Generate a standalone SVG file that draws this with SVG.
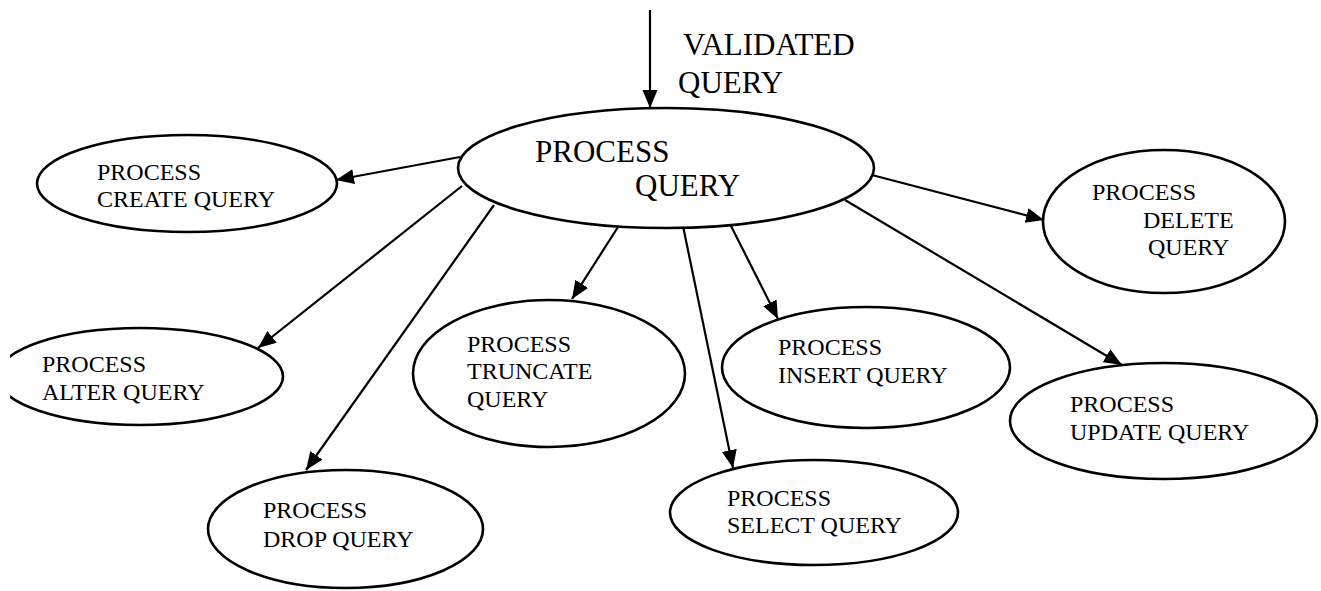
<svg xmlns="http://www.w3.org/2000/svg" width="1321" height="591" viewBox="0 0 1321 591">
  <style>
    .node { fill: #fff; stroke: #000; stroke-width: 2.6; }
    .edge { stroke: #000; stroke-width: 2.2; fill: none; marker-end: url(#arrow); }
    text { font-family: "Liberation Serif", "Times New Roman", "DejaVu Serif", serif; fill: #000; }
    .lbl { font-size: 24px; }
    .big { font-size: 31px; }
  </style>
  <defs>
    <marker id="arrow" markerUnits="userSpaceOnUse" markerWidth="20" markerHeight="16" refX="18" refY="7.5" orient="auto">
      <path d="M0,0 L18,7.5 L0,15 z" fill="#000"/>
    </marker>
    <clipPath id="leftEdge">
      <rect x="10" y="0" width="1311" height="591"/>
    </clipPath>
  </defs>

  <rect width="1321" height="591" fill="#fff"/>

  <!-- connectors -->
  <g id="connectors">
    <line class="edge" x1="650" y1="10" x2="650" y2="108"/>
    <line class="edge" x1="460" y1="157" x2="336" y2="180"/>
    <line class="edge" x1="462" y1="186" x2="258" y2="348"/>
    <line class="edge" x1="494" y1="205" x2="306" y2="470"/>
    <line class="edge" x1="618" y1="227" x2="572" y2="299"/>
    <line class="edge" x1="683" y1="226" x2="733" y2="468"/>
    <line class="edge" x1="730" y1="224" x2="778" y2="319"/>
    <line class="edge" x1="845" y1="200" x2="1122" y2="365"/>
    <line class="edge" x1="868" y1="174" x2="1044" y2="220"/>
  </g>

  <!-- incoming label -->
  <text class="big" x="683" y="55">VALIDATED</text>
  <text class="big" x="678" y="93">QUERY</text>

  <g id="process-query">
    <ellipse class="node" cx="666" cy="168" rx="208" ry="60"/>
    <text class="big" x="535" y="162">PROCESS</text>
    <text class="big" x="635" y="196">QUERY</text>
  </g>

  <g id="create-query">
    <ellipse class="node" cx="187" cy="183.5" rx="150" ry="48.5"/>
    <text class="lbl" x="97" y="180">PROCESS</text>
    <text class="lbl" x="97" y="207">CREATE QUERY</text>
  </g>

  <g id="alter-query">
    <ellipse class="node" cx="140" cy="376.5" rx="143" ry="48.5" clip-path="url(#leftEdge)"/>
    <text class="lbl" x="42" y="372">PROCESS</text>
    <text class="lbl" x="42" y="400">ALTER QUERY</text>
  </g>

  <g id="drop-query">
    <ellipse class="node" cx="345.5" cy="529" rx="137.5" ry="59"/>
    <text class="lbl" x="263" y="518">PROCESS</text>
    <text class="lbl" x="263" y="547">DROP QUERY</text>
  </g>

  <g id="truncate-query">
    <ellipse class="node" cx="549" cy="373.5" rx="136" ry="73.5"/>
    <text class="lbl" x="467" y="352">PROCESS</text>
    <text class="lbl" x="467" y="379">TRUNCATE</text>
    <text class="lbl" x="467" y="407">QUERY</text>
  </g>

  <g id="select-query">
    <ellipse class="node" cx="814" cy="512.5" rx="144" ry="52.5"/>
    <text class="lbl" x="727" y="506">PROCESS</text>
    <text class="lbl" x="727" y="533">SELECT QUERY</text>
  </g>

  <g id="insert-query">
    <ellipse class="node" cx="866" cy="367.5" rx="144" ry="60.5"/>
    <text class="lbl" x="778" y="355">PROCESS</text>
    <text class="lbl" x="778" y="383">INSERT QUERY</text>
  </g>

  <g id="update-query">
    <ellipse class="node" cx="1163.5" cy="421" rx="153.5" ry="58"/>
    <text class="lbl" x="1070" y="412">PROCESS</text>
    <text class="lbl" x="1070" y="440">UPDATE QUERY</text>
  </g>

  <g id="delete-query">
    <ellipse class="node" cx="1164" cy="221.5" rx="121" ry="71.5"/>
    <text class="lbl" x="1092" y="200">PROCESS</text>
    <text class="lbl" x="1143" y="228">DELETE</text>
    <text class="lbl" x="1148" y="255">QUERY</text>
  </g>
</svg>
